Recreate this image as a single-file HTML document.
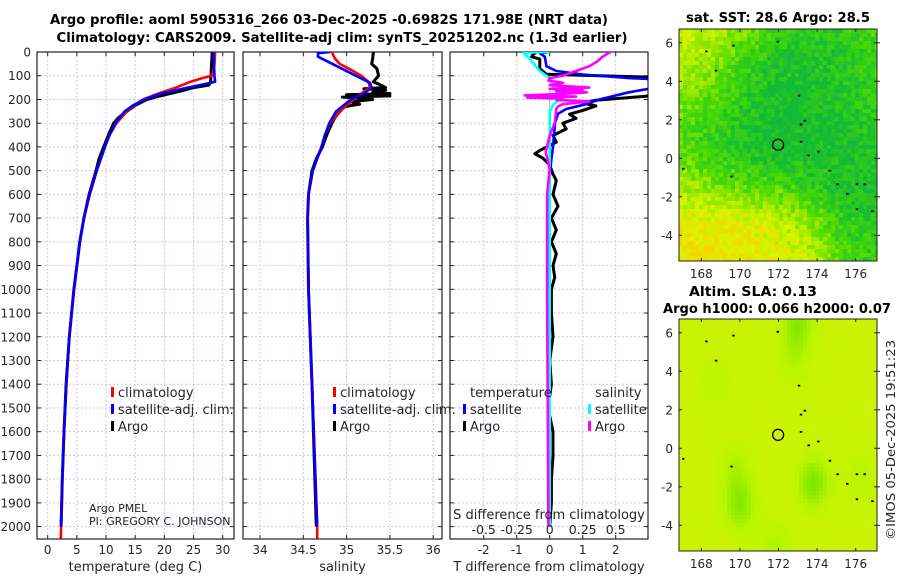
<!DOCTYPE html>
<html><head><meta charset="utf-8">
<style>
html,body{margin:0;padding:0;background:#fff;}
svg{display:block;font-family:"DejaVu Sans","Liberation Sans",sans-serif;}
</style></head>
<body>
<svg id="fig" width="900" height="580" viewBox="0 0 900 580" xmlns="http://www.w3.org/2000/svg">
<rect width="900" height="580" fill="#fff"/>
<text x="329" y="24" text-anchor="middle" font-size="13" font-weight="bold" textLength="558" lengthAdjust="spacingAndGlyphs">Argo profile: aoml 5905316_266 03-Dec-2025 -0.6982S 171.98E (NRT data)</text>
<text x="342" y="42" text-anchor="middle" font-size="13" font-weight="bold" textLength="571" lengthAdjust="spacingAndGlyphs">Climatology: CARS2009. Satellite-adj clim: synTS_20251202.nc (1.3d earlier)</text>
<g id="plots"></g>
</svg>
<script>
// ---------------- data ----------------
const depthTicks=[0,100,200,300,400,500,600,700,800,900,1000,1100,1200,1300,1400,1500,1600,1700,1800,1900,2000];
const tempTicks=[0,5,10,15,20,25,30];
const salTicks=[34,34.5,35,35.5,36];
const tdiffTicks=[-2,-1,0,1,2];
const sdiffTicks=[-0.5,-0.25,0,0.25,0.5];

const tClimDepth=[0,50,100,110,125,150,175,200,225,250,300,350,400,500,600,700,800,900,1000,1200,1400,1600,1800,2000,2050];
const tClim=[28.7,28.6,28.2,26.5,24.5,22.0,19.0,16.3,14.8,13.6,11.8,10.6,9.8,8.4,7.2,6.2,5.5,5.0,4.5,3.7,3.2,2.8,2.5,2.3,2.25];
const tSatDepth=[0,50,100,125,135,150,175,200,225,250,300,350,400,500,600,700,800,900,1000,1200,1400,1600,1800,2000];
const tSat=[28.4,28.5,28.6,28.7,27.0,24.0,19.5,16.6,14.6,13.2,11.6,10.6,9.8,8.4,7.2,6.2,5.5,5.0,4.5,3.7,3.2,2.8,2.5,2.3];
const tArgoDepth=[0,50,100,130,140,150,160,175,190,200,225,250,275,300,350,400,450,500,600,700,800,900,1000,1200,1400,1600,1800,2000];
const tArgo=[28.2,28.1,28.0,27.9,27.6,25.0,23.5,21.0,18.5,17.0,15.0,13.6,12.2,11.3,10.4,9.6,8.8,8.3,7.1,6.2,5.5,5.0,4.5,3.7,3.15,2.8,2.5,2.3];

const sClimDepth=[0,25,50,75,100,125,150,175,200,250,300,350,400,500,600,700,1000,1400,2000,2050];
const sClim=[34.83,34.86,34.92,35.05,35.17,35.25,35.27,35.17,35.08,34.92,34.81,34.75,34.71,34.61,34.56,34.55,34.56,34.60,34.66,34.66];
const sSatDepth=[0,5,20,130,150,175,200,250,300,350,400,500,600,700,1000,1400,2000];
const sSat=[34.81,34.67,34.67,35.27,35.29,35.2,35.05,34.88,34.8,34.75,34.71,34.61,34.56,34.55,34.56,34.60,34.66];
const sArgoDepth=[0,30,50,70,100,125,140,150,155,160,170,175,180,185,190,195,200,210,220,230,240,260,280,300,350,400,450,500,600,700,1000,1400,2000];
const sArgo=[35.31,35.3,35.29,35.35,35.37,35.31,35.40,35.45,35.2,35.45,35.3,35.5,35.0,35.5,34.95,35.2,35.3,35.05,35.15,34.98,34.95,34.9,34.86,34.83,34.77,34.72,34.65,34.6,34.56,34.55,34.56,34.6,34.65];

const dtSatDepth=[0,5,20,60,80,95,110,120,150,170,200,220,240,260,300,400,450,600,1000,1500,2000];
const dtSat=[0,-0.3,-0.15,-0.1,0.2,1.0,2.4,4,3.2,2.4,1.5,1.1,0.5,0.25,0.16,0.1,0.05,-0.05,-0.05,-0.03,0];
const dtArgoDepth=[0,10,20,30,50,70,94,100,110,150,180,203,215,227,246,262,280,300,324,352,380,415,429,448,476,514,542,600,650,700,750,800,850,900,950,1000,1100,1200,1300,1400,1500,1600,1700,1800,1900,2000];
const dtArgo=[-0.4,-0.5,-0.55,-0.3,-0.3,-0.3,-0.1,1.5,4,4,3.5,1.4,1.0,1.4,1.0,0.6,0.8,0.4,0.5,0.1,0.2,-0.3,-0.45,-0.2,0,0.1,0.2,0.1,0.25,0.05,0.2,0.05,0.2,0.1,0.15,0.05,0.05,0.1,0,0.05,-0.05,0.1,0.1,0.05,0.05,0];
const dsSatDepth=[0,3,30,80,100,110,150,200,220,250,400,1000,2000];
const dsSat=[0,-0.2,-0.15,-0.075,-0.025,0,0.03,0.08,0.03,0,0,0,0];
const dsArgoDepth=[0,20,40,60,80,100,110,120,130,140,150,155,160,165,170,178,183,188,192,197,202,208,214,220,230,240,295,352,421,492,600,1000,2000];
const dsArgo=[0.46,0.4,0.36,0.3,0.2,0.1,0.0,-0.01,0.1,0.0,0.3,0.0,0.25,0.05,0.28,0.05,-0.19,0.2,-0.17,0.1,0.05,0.3,0.2,0.1,0.06,0.05,0.04,0,-0.03,0,-0.02,-0.02,-0.01];

const lonTicks=[168,170,172,174,176];
const latTicks=[-4,-2,0,2,4,6];
const floatLon=[171.98], floatLat=[0.7];

// ---------------- helpers ----------------
const NS="http://www.w3.org/2000/svg";
const root=document.getElementById('plots');
function mk(tag,attrs,parent){const e=document.createElementNS(NS,tag);for(const k in attrs)e.setAttribute(k,attrs[k]);(parent||root).appendChild(e);return e;}
const yD=d=>52+d*0.2373;
const BOT=539, TOP=52;
const panels=[
 {x0:37,x1:234,sx:v=>47.7+v*5.833,ticks:tempTicks,lab:v=>String(v),title:'temperature (deg C)',name:'temperature'},
 {x0:243,x1:442,sx:v=>260+(v-34)*86.6,ticks:salTicks,lab:v=>String(v),title:'salinity',name:'salinity'},
 {x0:450,x1:648,sx:v=>549.7+v*33,ticks:tdiffTicks,lab:v=>String(v),title:'T difference from climatology',name:'difference'}
];
panels.forEach((p,i)=>{
  const g=mk('g',{});
  
  
  const cp=mk('clipPath',{id:'clip'+i},g);
  mk('rect',{x:p.x0,y:TOP,width:p.x1-p.x0,height:BOT-TOP},cp);
  depthTicks.forEach(d=>{
    const l=mk('line',{x1:p.x0,x2:p.x1,y1:yD(d),y2:yD(d),stroke:'#c5c8e8','stroke-width':1,'stroke-dasharray':'2,2'},g);
    
    
    mk('line',{x1:p.x0,x2:p.x0+4,y1:yD(d),y2:yD(d),stroke:'#222'},g);
    mk('line',{x1:p.x1-4,x2:p.x1,y1:yD(d),y2:yD(d),stroke:'#222'},g);
  });
  p.ticks.forEach(v=>{
    const x=p.sx(v);
    const l=mk('line',{x1:x,x2:x,y1:TOP,y2:BOT,stroke:'#c5c8e8','stroke-width':1,'stroke-dasharray':'2,2'},g);
    
    
    mk('line',{x1:x,x2:x,y1:BOT-4,y2:BOT,stroke:'#222'},g);
    mk('line',{x1:x,x2:x,y1:TOP,y2:TOP+4,stroke:'#222'},g);
    const t=mk('text',{x:x,y:554,'text-anchor':'middle','font-size':12,fill:'#262626'},g);
    t.textContent=p.lab(v);
    
    
  });
  const fr=mk('rect',{x:p.x0,y:TOP,width:p.x1-p.x0,height:BOT-TOP,fill:'none',stroke:'#222','stroke-width':1.2},g);
  
  
  const at=mk('text',{x:(p.x0+p.x1)/2,y:571,'text-anchor':'middle','font-size':13,fill:'#262626'},g);
  at.textContent=p.title;
  
  
  p.g=g;
});
depthTicks.forEach(d=>{
  const t=mk('text',{x:31,y:yD(d)+4.5,'text-anchor':'end','font-size':12,fill:'#262626'});
  t.textContent=String(d);
  
  
});
function line(pi,depths,vals,sx,color,name,w){
  const pts=depths.map((d,k)=>sx(vals[k]).toFixed(1)+','+yD(d).toFixed(1)).join(' ');
  const pl=mk('polyline',{points:pts,fill:'none',stroke:color,'stroke-width':w||2.6,'stroke-linejoin':'round','clip-path':'url(#clip'+pi+')'},panels[pi].g);
  
  
}
const P=panels;
line(0,tArgoDepth,tArgo,P[0].sx,'#000','argo-temperature-line',3);
line(0,tClimDepth,tClim,P[0].sx,'#f00','climatology-temperature-line');
line(0,tSatDepth,tSat,P[0].sx,'#00f','satellite-temperature-line');
line(1,sArgoDepth,sArgo,P[1].sx,'#000','argo-salinity-line',3);
line(1,sClimDepth,sClim,P[1].sx,'#f00','climatology-salinity-line');
line(1,sSatDepth,sSat,P[1].sx,'#00f','satellite-salinity-line');
const dsx=v=>549.7+v*132;
mk('line',{x1:549.7,x2:549.7,y1:yD(100),y2:yD(420),stroke:'#5a7a3a','stroke-width':1,'stroke-dasharray':'1,2'},P[2].g);
line(2,dtArgoDepth,dtArgo,P[2].sx,'#000','argo-tdiff-line',3);
line(2,dtSatDepth,dtSat,P[2].sx,'#00f','satellite-tdiff-line');
line(2,dsSatDepth,dsSat,dsx,'#0ff','satellite-sdiff-line');
line(2,dsArgoDepth,dsArgo,dsx,'#f0f','argo-sdiff-line');
// S diff axis
const sl=mk('text',{x:549,y:519,'text-anchor':'middle','font-size':13,fill:'#262626'});
sl.textContent='S difference from climatology';


sdiffTicks.forEach(v=>{
  const t=mk('text',{x:dsx(v),y:534,'text-anchor':'middle','font-size':12.5,fill:'#262626'});
  t.textContent=String(v);
  
  
});
// legends
function legend(x,y,color,label){
  const g=mk('g',{});
  
  
  mk('rect',{x:x,y:y-10,width:3,height:10,fill:color},g);
  const t=mk('text',{x:x+7,y:y,'font-size':13,fill:'#262626'},g);t.textContent=label;
}
legend(111,397,'#f00','climatology');legend(111,414,'#00f','satellite-adj. clim.');legend(111,431,'#000','Argo');
legend(333,397,'#f00','climatology');legend(333,414,'#00f','satellite-adj. clim.');legend(333,431,'#000','Argo');
const h1=mk('text',{x:470,y:397,'font-size':13,fill:'#262626'});h1.textContent='temperature';

const h2=mk('text',{x:595,y:397,'font-size':13,fill:'#262626'});h2.textContent='salinity';

legend(463,414,'#00f','satellite');legend(463,431,'#000','Argo');
legend(588,414,'#0ff','satellite');legend(588,431,'#f0f','Argo');
const pm=mk('text',{x:89,y:512,'font-size':11,fill:'#222'});pm.textContent='Argo PMEL';

const pi=mk('text',{x:89,y:525,'font-size':11,fill:'#222'});pi.textContent='PI: GREGORY C. JOHNSON';


// ---------------- maps ----------------
const sstGrid=[ // rows lat 6.7 -> -5.3, cols lon 167 -> 177
 [0.75,0.65,0.45,0.2,0.15,0.2,0.3],
 [0.65,0.5,0.2,0.08,0.08,0.12,0.25],
 [0.45,0.3,0.12,0.03,0.03,0.08,0.25],
 [0.35,0.18,0.08,0.0,0.03,0.03,0.1],
 [0.6,0.45,0.35,0.3,0.15,0.05,0.1],
 [0.88,0.88,0.85,0.75,0.5,0.2,0.15],
 [0.95,0.95,0.92,0.85,0.7,0.3,0.2]];
const slaBlobLon=[170,169.8,173.8,173.0,172.8,168.8,176.3,171.8];
const slaBlobLat=[-3,-1,-1.8,6.5,4.5,3.5,-1.5,-5];
const slaBlobAmp=[-0.6,-0.35,-0.7,-0.6,-0.3,-0.25,-0.3,-0.35];
function hash(i,j){let h=(i*374761393+j*668265263)>>>0;h=(h^(h>>>13))*1274126177>>>0;return ((h^(h>>>16))>>>0)/4294967296;}
function cmapSST(v){
  const st=[[0,[20,185,55]],[0.3,[65,215,10]],[0.55,[150,232,0]],[0.8,[215,245,0]],[1,[245,215,0]]];
  v=Math.max(0,Math.min(1,v));
  for(let k=1;k<st.length;k++){if(v<=st[k][0]){const a=st[k-1],b=st[k],t=(v-a[0])/(b[0]-a[0]);return 'rgb('+a[1].map((c,n)=>Math.round(c+(b[1][n]-c)*t)).join(',')+')';}}
}
function cmapSLA(v){
  const st=[[0,[110,228,0]],[0.5,[185,245,0]],[1,[215,242,10]]];
  v=Math.max(0,Math.min(1,v));
  for(let k=1;k<st.length;k++){if(v<=st[k][0]){const a=st[k-1],b=st[k],t=(v-a[0])/(b[0]-a[0]);return 'rgb('+a[1].map((c,n)=>Math.round(c+(b[1][n]-c)*t)).join(',')+')';}}
}
function bil(grid,fx,fy){
  const r=grid.length-1,c=grid[0].length-1;
  const X=Math.max(0,Math.min(c,fx*c)),Y=Math.max(0,Math.min(r,fy*r));
  const i=Math.min(r-1,Math.floor(Y)),j=Math.min(c-1,Math.floor(X)),ty=Y-i,tx=X-j;
  return grid[i][j]*(1-tx)*(1-ty)+grid[i][j+1]*tx*(1-ty)+grid[i+1][j]*(1-tx)*ty+grid[i+1][j+1]*tx*ty;
}
function drawMap(name,x0,y0,x1,y1,lat0y,kind){
  const g=mk('g',{});
  
  
  const lx=l=>778.5+(l-172)*19.3, ly=p=>lat0y-p*19.25;
  const cs=4;
  for(let y=y0,i=0;y<y1;y+=cs,i++){
    for(let x=x0,j=0;x<x1;x+=cs,j++){
      const fx=(x-x0)/(x1-x0),fy=(y-y0)/(y1-y0);
      let col;
      if(kind==='sst'){col=cmapSST(bil(sstGrid,fx,fy)+(hash(i,j)-0.5)*0.3);}
      else{
        const lon=172+(x+2-778.5)/19.3, lat=(lat0y-(y+2))/19.25;
        let v=0.8;
        for(let k=0;k<slaBlobLon.length;k++){const dx=(lon-slaBlobLon[k])/0.9,dy=(lat-slaBlobLat[k])/1.4;v+=slaBlobAmp[k]*Math.exp(-(dx*dx+dy*dy));}
        col=cmapSLA(v+(hash(i,j)-0.5)*0.04);
      }
      mk('rect',{x:x,y:y,width:Math.min(cs,x1-x),height:Math.min(cs,y1-y),fill:col},g);
    }
  }
  // island dots
  [[168.2,5.6],[169.6,5.9],[171.9,6.1],[168.7,4.6],[173.0,3.3],[173.1,1.8],[173.3,2.0],[173.1,0.9],[173.5,0.2],[174.0,0.4],[174.6,-0.6],[175.0,-1.3],[175.5,-1.8],[176.0,-1.3],[176.4,-1.3],[176.0,-2.6],[176.8,-2.7],[169.5,-0.9],[167.0,-0.5]].forEach(p=>{
    mk('rect',{x:lx(p[0]),y:ly(p[1]),width:2.5,height:1.8,fill:'#000'},g);
  });
  lonTicks.forEach(l=>{
    mk('line',{x1:lx(l),x2:lx(l),y1:y1-3,y2:y1,stroke:'#222'},g);
    mk('line',{x1:lx(l),x2:lx(l),y1:y0,y2:y0+3,stroke:'#222'},g);
    const t=mk('text',{x:lx(l),y:y1+17,'text-anchor':'middle','font-size':12,fill:'#262626'},g);t.textContent=String(l);
    
  });
  latTicks.forEach(p=>{
    mk('line',{x1:x0,x2:x0+3,y1:ly(p),y2:ly(p),stroke:'#222'},g);
    mk('line',{x1:x1-3,x2:x1+3,y1:ly(p),y2:ly(p),stroke:'#222'},g);
    const t=mk('text',{x:x0-6,y:ly(p)+4.5,'text-anchor':'end','font-size':12,fill:'#262626'},g);t.textContent=String(p);
    
  });
  const c=mk('circle',{cx:lx(floatLon[0]),cy:ly(floatLat[0]),r:5.5,fill:'none',stroke:'#000','stroke-width':1.3},g);
  
  mk('rect',{x:x0,y:y0,width:x1-x0,height:y1-y0,fill:'none',stroke:'#222','stroke-width':1},g);
}
drawMap('sst-map',679,29,877,261,158.3,'sst');
drawMap('sla-map',679,319,877,551,448.3,'sla');
function ttl(x,y,s,name,len){const t=mk('text',{x:x,y:y,'text-anchor':'middle','font-size':13,'font-weight':'bold',textLength:len,lengthAdjust:'spacingAndGlyphs'});t.textContent=s;}
ttl(778,22,'sat. SST: 28.6 Argo: 28.5','sst-map-title',184);
ttl(753,296,'Altim. SLA: 0.13','sla-map-title',128);
ttl(777,313,'Argo h1000: 0.066 h2000: 0.07','argo-height-title',228);
const cr=mk('text',{x:0,y:0,'text-anchor':'middle','font-size':12.5,fill:'#262626',transform:'translate(895,440) rotate(-90)',textLength:200,lengthAdjust:'spacingAndGlyphs'});
cr.textContent='©IMOS 05-Dec-2025 19:51:23';


</script>
</body></html>
